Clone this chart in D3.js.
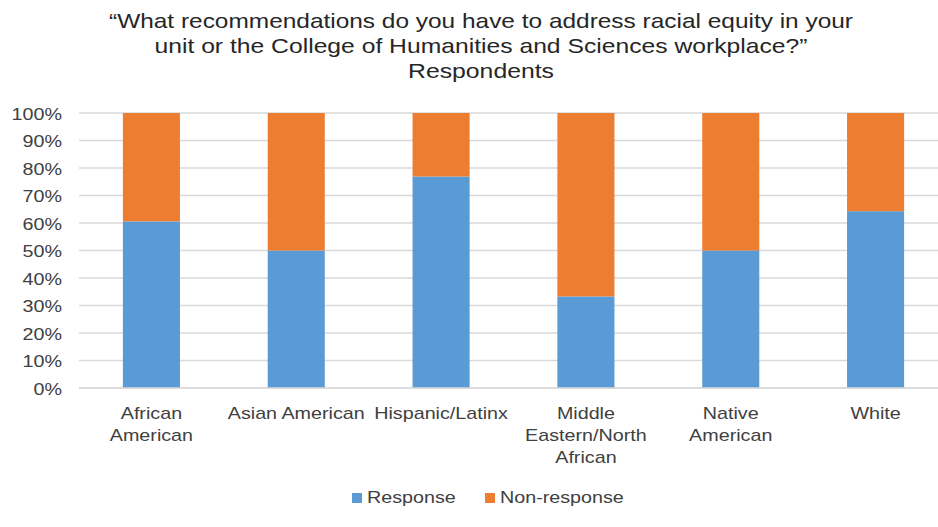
<!DOCTYPE html>
<html>
<head>
<meta charset="utf-8">
<script src="https://cdn.jsdelivr.net/npm/d3@7"></script>
<style>
  body { margin: 0; background: #fff; }
  text { font-family: "Liberation Sans", Arial, sans-serif; fill: #404040; }
</style>
</head>
<body>
<svg id="chart" width="938" height="527"></svg>
<script>
var categories = ["African American", "Asian American", "Hispanic/Latinx",
	"Middle Eastern/North African", "Native American", "White"];
var categoryLines = [["African", "American"], ["Asian American"], ["Hispanic/Latinx"],
	["Middle", "Eastern/North", "African"], ["Native", "American"], ["White"]];
var responseVals = [60.6, 50, 76.9, 33.3, 50, 64.3];
var nonResponseVals = [39.4, 50, 23.1, 66.7, 50, 35.7];
var seriesNames = ["Response", "Non-response"];
var seriesColors = ["#5B9BD5", "#ED7D31"];
var yTicks = [0, 10, 20, 30, 40, 50, 60, 70, 80, 90, 100];
var titleLines = [
	"\u201cWhat recommendations do you have to address racial equity in your",
	"unit or the College of Humanities and Sciences workplace?\u201d",
	"Respondents"
];
var titleWidths = [744, 653, 146];

var svg = d3.select('#chart');

var plotLeft = 79, plotRight = 948, plotTop = 113, plotBottom = 388;

var x = d3.scaleBand()
	.domain(categories)
	.range([plotLeft, plotRight])
	.paddingInner(0.606)
	.paddingOuter(0.303);

var y = d3.scaleLinear()
	.domain([0, 100])
	.range([plotBottom, plotTop]);

// title
svg.append('g')
	.attr('class', 'title')
	.selectAll('text')
	.data(titleLines)
	.enter()
	.append('text')
	.attr('x', 481)
	.attr('y', function(d, i) { return 28 + i * 25; })
	.attr('text-anchor', 'middle')
	.attr('textLength', function(d, i) { return titleWidths[i]; })
	.attr('lengthAdjust', 'spacingAndGlyphs')
	.style('font-size', '21px')
	.style('fill', '#262626')
	.text(function(d) { return d; });

// gridlines
svg.append('g')
	.attr('class', 'grid')
	.selectAll('line')
	.data(yTicks)
	.enter()
	.append('line')
	.attr('x1', plotLeft)
	.attr('x2', plotRight)
	.attr('y1', function(d) { return y(d); })
	.attr('y2', function(d) { return y(d); })
	.attr('stroke', '#d9d9d9')
	.attr('stroke-width', 1.5);

// y axis labels
var yAxis = d3.axisLeft(y)
	.tickValues(yTicks)
	.tickSize(0)
	.tickPadding(17)
	.tickFormat(function(d) { return d + '%'; });

var yg = svg.append('g')
	.attr('transform', 'translate(' + plotLeft + ',0)')
	.call(yAxis);
yg.select('.domain').remove();
yg.selectAll('text')
	.attr('dy', '0.36em')
	.style('font-size', '17px')
	.style('fill', '#404040')
	.attr('transform', 'translate(-17,0) scale(1.16,1) translate(17,0)');

// stacked bars
var stackData = categories.map(function(c, i) {
	return { cat: c, Response: responseVals[i], 'Non-response': nonResponseVals[i] };
});
var stacked = d3.stack().keys(seriesNames)(stackData);

svg.append('g')
	.attr('class', 'bars')
	.selectAll('g')
	.data(stacked)
	.enter()
	.append('g')
	.attr('fill', function(d, i) { return seriesColors[i]; })
	.selectAll('rect')
	.data(function(d) { return d; })
	.enter()
	.append('rect')
	.attr('x', function(d) { return x(d.data.cat); })
	.attr('y', function(d) { return y(d[1]); })
	.attr('width', x.bandwidth())
	.attr('height', function(d) { return y(d[0]) - y(d[1]); });

// x axis line
svg.append('line')
	.attr('x1', plotLeft)
	.attr('x2', plotRight)
	.attr('y1', y(0))
	.attr('y2', y(0))
	.attr('stroke', '#d9d9d9')
	.attr('stroke-width', 1.5);

// category labels
var xl = svg.append('g')
	.attr('class', 'xlabels')
	.selectAll('text')
	.data(categories)
	.enter()
	.append('text')
	.attr('text-anchor', 'middle')
	.attr('transform', function(d) {
		return 'translate(' + (x(d) + x.bandwidth() / 2) + ',419) scale(1.16,1)';
	})
	.style('font-size', '17px')
	.style('fill', '#404040');

xl.selectAll('tspan')
	.data(function(d, i) { return categoryLines[i]; })
	.enter()
	.append('tspan')
	.attr('x', 0)
	.attr('y', function(d, i) { return i * 22; })
	.text(function(d) { return d; });

// legend
var legendX = [352, 485];
var lg = svg.append('g')
	.attr('class', 'legend')
	.selectAll('g')
	.data(seriesNames)
	.enter()
	.append('g')
	.attr('transform', function(d, i) { return 'translate(' + legendX[i] + ',493)'; });

lg.append('rect')
	.attr('width', 10)
	.attr('height', 10)
	.attr('fill', function(d, i) { return seriesColors[i]; });

lg.append('text')
	.attr('transform', 'translate(15,10) scale(1.16,1)')
	.style('font-size', '17px')
	.style('fill', '#404040')
	.text(function(d) { return d; });
</script>
</body>
</html>
